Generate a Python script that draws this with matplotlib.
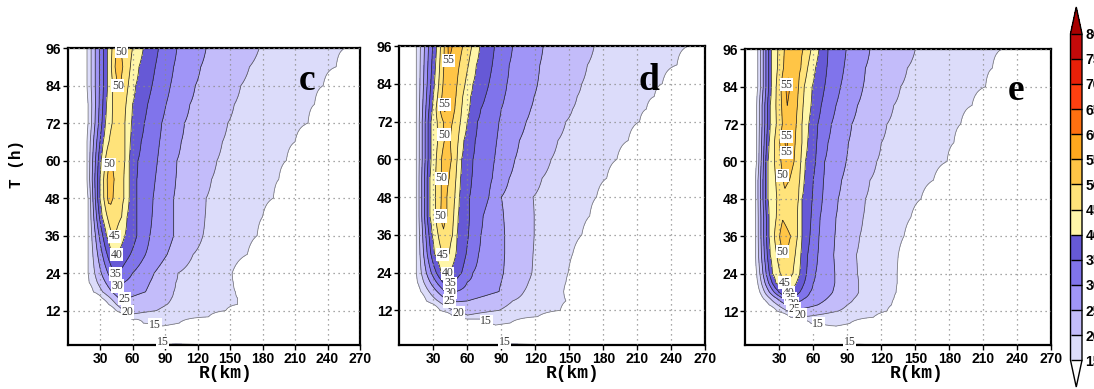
import numpy as np
import matplotlib
matplotlib.use('Agg')
import matplotlib.pyplot as plt
from matplotlib.colors import ListedColormap

N = np.nan

LEVELS = [15, 20, 25, 30, 35, 40, 45, 50, 55, 60, 65, 70, 75, 80]
FILL_COLORS = ['#DCDCFA', '#C3BCFA', '#A095F7', '#8074EB', '#6659D6',
               '#FFF6A8', '#FFE37A', '#FFC546', '#FFA81E', '#FF7010',
               '#FF4010', '#E82008', '#C40A0A']
LINE_COLORS = ['#777777', '#555555'] + ['#2a2a2a'] * 12
UNDER_COLOR = 'white'
OVER_COLOR = '#A80000'
X_TICKS = [30, 60, 90, 120, 150, 180, 210, 240, 270]
Y_TICKS = [12, 24, 36, 48, 60, 72, 84, 96]
PANEL_LETTERS = ['c', 'd', 'e']

# ---------------- panel c ----------------
C_T     = [1, 2.5, 6, 8, 10, 12, 14, 16, 18, 21, 24, 30, 36, 42, 48, 54, 60, 66, 72, 78, 84, 90, 96]
C_VMAX  = [16, 12, 14, 16, 19, 21.5, 23.5, 25.5, 28, 31.5, 35.5, 40.5, 45.5, 48.5, 51.5, 52, 50.5, 48.5, 48, 49, 50.5, 53, 51]
C_RMW   = [100, 100, 88, 85, 60, 54, 50, 48, 46, 45, 44, 43, 42, 40, 38, 38, 39, 42, 45, 46, 47, 46, 46]
C_RIN15 = [62, N, N, 70, 55, 45, 38, 32, 24, 20, 19, 19, 19, 19, 19, 18, 18, 18, 19, 19, 18, 18, 18]
C_RIN40 = [N]*11 + [41, 36, 32, 30, 30, 31, 33, 35, 36, 37, 37, 37]
C_R50   = [N]*14 + [42, 43, 41, N, N, N, 49, 51, 49]
C_R45   = [N]*12 + [44, 50, 52, 52, 53, 53, 53, 54, 56, 58, 60]
C_R40   = [N]*11 + [46, 53, 55, 57, 57, 57, 58, 59, 60, 63, 66, 70]
C_R35   = [N]*10 + [47, 58, 64, 64, 64, 64, 65, 68, 71, 74, 78, 81, 84]
C_R30   = [N]*9 + [52, 60, 72, 76, 78, 79, 81, 83, 85, 87, 91, 95, 98, 101]
C_R25   = [N]*7 + [56, 72, 76, 80, 92, 98, 98, 98, 100, 101, 105, 108, 113, 118, 123, 128]
C_R20   = [N]*5 + [82, 92, 96, 98, 100, 102, 116, 125, 127, 128, 133, 138, 143, 148, 154, 160, 168, 177]
C_R15   = [140, N, N, 103, 130, 146, 157, 157, 155, 153, 152, 166, 175, 180, 190, 195, 202, 210, 222, 228, 236, 248, 256]
# (level, R, T) of each boxed contour label
C_LABELS = [(50, 49, 94.5), (50, 47, 84), (50, 38, 59), (45, 44, 35.5), (40, 45, 30.2), (35, 44.5, 23.5),
            (30, 45.4, 19.5), (25, 53, 15.5), (20, 54.6, 10.8), (15, 80.8, 7.6), (15, 88, 1.3)]

# ---------------- panel d ----------------
D_T     = [1, 2.5, 6, 8, 10, 12, 15, 18, 21, 24, 30, 36, 42, 48, 54, 60, 66, 72, 76, 80, 84, 90, 96]
D_VMAX  = [16, 12, 14, 15.5, 19.5, 22, 25.5, 31, 36.5, 41, 46.5, 49.5, 51.5, 51, 52, 53, 51, 52, 56, 54.5, 54.5, 55, 56.5]
D_RMW   = [100, 100, 85, 85, 60, 52, 45, 42, 40, 40, 40, 39, 38, 38, 39, 40, 41, 41, 40, 41, 42, 43, 44]
D_RIN15 = [60, N, N, 78, 48, 36, 24, 19, 16, 15, 15, 15, 15, 15, 15, 15, 15, 15, 15, 15, 15, 15, 15]
D_RIN40 = [N]*9 + [37, 31, 29, 27, 27, 27, 28, 28, 28, 29, 30, 31, 32, 33]
D_R50   = [N]*12 + [42, 42, 44, 46, 45, 47, 49, 50, 51, 53, 56]
D_R45   = [N]*10 + [44, 47, 48, 49, 50, 51, 52, 54, 55, 56, 58, 61, 64]
D_R40   = [N]*9 + [44, 50, 51, 52, 53, 54, 55, 57, 60, 62, 63, 65, 68, 71]
D_R35   = [N]*8 + [48, 55, 59, 61, 62, 62, 64, 65, 67, 69, 72, 76, 79, 82, 84]
D_R30   = [N]*7 + [50, 60, 65, 70, 72, 74, 79, 82, 84, 86, 88, 90, 93, 95, 97, 100]
D_R25   = [N]*6 + [60, 88, 90, 92, 93, 93, 92, 90, 97, 102, 106, 112, 116, 119, 122, 124, 127]
D_R20   = [N]*5 + [88, 100, 110, 114, 117, 118, 119, 119, 118, 126, 134, 140, 147, 153, 157, 161, 166, 172]
D_R15   = [135, N, N, 98, 122, 142, 147, 145, 147, 149, 153, 161, 168, 174, 183, 192, 202, 212, 218, 225, 232, 245, 255]
D_LABELS = [(55, 43, 91), (55, 40, 77.3), (50, 40, 67.8), (50, 37, 54), (50, 36, 42.4), (45, 40, 30),
            (40, 44.7, 22.4), (35, 45, 20.3), (30, 45, 18.2), (25, 45, 15.5), (20, 52, 10.7), (15, 75.6, 8.1), (15, 93, 1.3)]

# ---------------- panel e ----------------
E_T     = [1, 2.5, 6, 8, 10, 12, 14, 16, 18, 21, 24, 30, 36, 42, 48, 54, 60, 66, 72, 78, 84, 90, 96]
E_VMAX  = [16, 12, 14, 16, 19.5, 24, 29, 35, 40.5, 45.5, 48, 50.5, 53, 49.5, 49, 51, 54, 56, 54, 55, 56.5, 54, 54]
E_RMW   = [100, 100, 80, 75, 55, 45, 42, 40, 38, 36, 35, 34, 33, 33, 34, 35, 36, 36, 37, 37, 37, 38, 39]
E_RIN15 = [58, N, N, 58, 40, 28, 21, 16, 13, 11, 10, 9, 9, 9, 9, 9, 10, 10, 10, 10, 11, 11, 11]
E_RIN40 = [N]*8 + [34, 27, 24, 22, 21, 21, 20, 20, 20, 21, 22, 22, 23, 23, 23]
E_R50   = [N]*11 + [37, 40, N, N, 39, 43, 44, 45, 46, 47, 49, 51]
E_R45   = [N]*9 + [38, 42, 44, 46, 46, 47, 48, 49, 50, 50, 51, 52, 55, 58]
E_R40   = [N]*8 + [40, 45, 48, 49, 50, 50, 50, 52, 53, 55, 56, 58, 59, 62, 65]
E_R35   = [N]*8 + [48, 52, 54, 55, 57, 58, 59, 60, 62, 63, 64, 67, 70, 72, 73]
E_R30   = [N]*7 + [52, 57, 60, 62, 64, 65, 66, 68, 69, 70, 73, 76, 80, 84, 87, 89]
E_R25   = [N]*6 + [64, 72, 77, 79, 79, 78, 79, 80, 82, 85, 89, 91, 94, 99, 104, 106, 110]
E_R20   = [N]*5 + [82, 90, 96, 100, 100, 99, 98, 101, 104, 106, 110, 116, 120, 125, 131, 137, 143, 150]
E_R15   = [125, N, N, 92, 113, 125, 129, 131, 133, 134, 134, 135, 140, 146, 155, 166, 178, 184, 190, 200, 212, 218, 226]
E_LABELS = [(55, 36.5, 84.3), (55, 35, 69.6), (55, 32, 62.7), (50, 30, 55.2), (50, 32, 31), (45, 32, 20.5),
            (40, 38, 18.5), (35, 40, 16.5), (30, 42, 14.5), (25, 44, 12.8), (20, 48.3, 11), (15, 64.4, 8.3), (15, 92, 1.3)]

PANELS = [
    dict(T=C_T, vmax=C_VMAX, rmw=C_RMW, rin=C_RIN15, rin40=C_RIN40,
         outer=[(50, C_R50), (45, C_R45), (40, C_R40), (35, C_R35), (30, C_R30), (25, C_R25), (20, C_R20), (15, C_R15)],
         labels=C_LABELS, rect=[67.5, 48, 360, 345], letter_pos=(221, 82.6), xlab_x=226),
    dict(T=D_T, vmax=D_VMAX, rmw=D_RMW, rin=D_RIN15, rin40=D_RIN40,
         outer=[(50, D_R50), (45, D_R45), (40, D_R40), (35, D_R35), (30, D_R30), (25, D_R25), (20, D_R20), (15, D_R15)],
         labels=D_LABELS, rect=[399.3, 46, 705.3, 345], letter_pos=(220, 82.1), xlab_x=573),
    dict(T=E_T, vmax=E_VMAX, rmw=E_RMW, rin=E_RIN15, rin40=E_RIN40,
         outer=[(50, E_R50), (45, E_R45), (40, E_R40), (35, E_R35), (30, E_R30), (25, E_R25), (20, E_R20), (15, E_R15)],
         labels=E_LABELS, rect=[745.3, 49.3, 1051.3, 345.3], letter_pos=(239, 79.8), xlab_x=917),
]

W, H = 1094, 389
MONO = 'Liberation Mono'
SANS = 'Liberation Sans'
SERIF = 'Liberation Serif'

r = np.linspace(0, 270, 1081)


def build_field(p):
    rows = []
    for i in range(len(p['T'])):
        pr, pv = [0.0], [0.0]
        rin = p['rin'][i]
        if not np.isnan(rin):
            pr += [max(rin - 6, 0.5), rin]
            pv += [9, 15]
        r40 = p['rin40'][i]
        if p['vmax'][i] > 40 and not np.isnan(r40) and r40 > pr[-1] and r40 < p['rmw'][i]:
            pr.append(r40); pv.append(40)
        pr.append(p['rmw'][i]); pv.append(p['vmax'][i])
        for lev, arr in p['outer']:
            rv = arr[i]
            if lev < p['vmax'][i] and not np.isnan(rv) and rv > pr[-1]:
                pr.append(rv); pv.append(lev)
        if pv[-1] == 15:
            pr.append(pr[-1] + 25); pv.append(9)
        pr.append(400.0); pv.append(0.0)
        rows.append(np.interp(r, pr, pv))
    return np.array(rows)


cmap = ListedColormap(FILL_COLORS)
cmap.set_under(UNDER_COLOR)
cmap.set_over(OVER_COLOR)

fig = plt.figure(figsize=(W / 100, H / 100), dpi=100)

cf = None
for k, p in enumerate(PANELS):
    x0, y0, x1, y1 = p['rect']
    ax = fig.add_axes([x0 / W, (H - y1) / H, (x1 - x0) / W, (y1 - y0) / H])
    ax.set_xlim(0, 270)
    ax.set_ylim(1, 96)
    V = build_field(p)
    cf = ax.contourf(r, p['T'], V, levels=LEVELS, cmap=cmap, extend='both')
    cs = ax.contour(r, p['T'], V, levels=LEVELS, colors=LINE_COLORS, linewidths=0.55)
    paths = cs.get_paths()
    lev_list = list(cs.levels)
    for lev, lr, lt in p['labels']:
        if lev not in lev_list:
            continue
        verts = paths[lev_list.index(lev)].vertices
        if len(verts) == 0:
            continue
        pix = ax.transData.transform(verts)
        target = ax.transData.transform([(lr, lt)])[0]
        j = np.argmin(((pix - target) ** 2).sum(axis=1))
        vx, vy = verts[j]
        vy = max(vy, 1.9)
        ax.text(vx, vy, '%d' % lev, ha='center', va='center', fontsize=8.5, color='#3a3a3a',
                family=SERIF, zorder=4,
                bbox=dict(boxstyle='square,pad=0.05', fc='white', ec='none'))
    ax.set_xlim(0, 270)
    ax.set_ylim(1, 96)
    ax.set_xticks(X_TICKS)
    ax.set_yticks(Y_TICKS)
    ax.grid(True, linestyle=(0, (1, 3)), color='#8a8a8a', linewidth=0.9)
    ax.set_axisbelow(False)
    ax.tick_params(direction='out', length=3.5, width=1, labelsize=10, pad=1.5)
    for lab in ax.get_xticklabels() + ax.get_yticklabels():
        lab.set_family(SANS)
        lab.set_fontweight('bold')
    for s in ax.spines.values():
        s.set_linewidth(1.6)
    ax.text(p['letter_pos'][0], p['letter_pos'][1], PANEL_LETTERS[k], ha='center', va='baseline',
            fontsize=27, fontweight='bold', family=SERIF, zorder=5)
    fig.text(p['xlab_x'] / W, 1 - 373 / H, 'R(km)', ha='center', va='center',
             fontsize=13, fontweight='bold', family=MONO)

fig.text(16 / W, 1 - 164 / H, 'T (h)', rotation=90, ha='center', va='center',
         fontsize=11.5, fontweight='bold', family=MONO)

cax = fig.add_axes([1070.5 / W, 2 / H, 11.5 / W, 380 / H])
cb = fig.colorbar(cf, cax=cax, extend='both', extendfrac=0.082, drawedges=True)
cb.outline.set_linewidth(1.0)
cb.dividers.set_linewidth(1.0)
cb.set_ticks(LEVELS)
cax.tick_params(length=0, pad=2.5, labelsize=10)
for lab in cax.get_yticklabels():
    lab.set_family(SANS)
    lab.set_fontweight('bold')

fig.savefig('out.png', dpi=100)
